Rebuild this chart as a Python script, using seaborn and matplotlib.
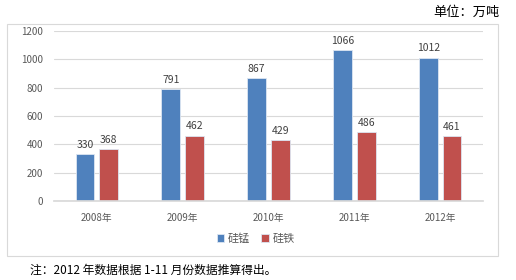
import matplotlib
matplotlib.use("Agg")
import matplotlib.pyplot as plt
import seaborn as sns
import pandas as pd
from matplotlib.patches import Rectangle

years = ["2008年", "2009年", "2010年", "2011年", "2012年"]
simn = [330, 791, 867, 1066, 1012]
sife = [368, 462, 429, 486, 461]
series = ["硅锰", "硅铁"]
yticks = [0, 200, 400, 600, 800, 1000, 1200]

sns.set_theme(style="white")
plt.rcParams['font.family'] = ['Noto Sans CJK SC', 'DejaVu Sans']

df = pd.DataFrame({
    "year": years * 2,
    "value": simn + sife,
    "series": [series[0]] * len(years) + [series[1]] * len(years),
})

fig = plt.figure(figsize=(5.16, 2.80), dpi=100)
ax = fig.add_axes([54/516, 1 - 201/280, (483-54)/516, (201-31)/280])

sns.barplot(data=df, x="year", y="value", hue="series",
            palette=["#4F81BD", "#C0504D"], width=0.556, gap=0.21,
            saturation=1, ax=ax, legend=True, edgecolor="#dce6f2", linewidth=0.6)

for cont in ax.containers:
    ax.bar_label(cont, padding=3, fontsize=7.5, color="#404040")

ax.set_ylim(0, 1200)
ax.set_yticks(yticks)
ax.set_xlim(-0.5, 4.5)
ax.yaxis.grid(True, color="#d9d9d9", linewidth=0.8)
ax.set_axisbelow(True)
for s in ["top", "right", "left"]:
    ax.spines[s].set_visible(False)
ax.spines["bottom"].set_color("#d9d9d9")
ax.tick_params(axis="both", length=0, labelsize=7, colors="#595959", pad=8)
ax.tick_params(axis="x", pad=9)
ax.set_xlabel("")
ax.set_ylabel("")

leg = ax.legend(loc="upper center", bbox_to_anchor=(0.47, -0.155), ncol=2,
                frameon=False, fontsize=8, handlelength=0.7, handleheight=0.7,
                handletextpad=0.3, columnspacing=1.0, borderpad=0)
for t in leg.get_texts():
    t.set_color("#595959")

fig.patches.append(Rectangle((7/516, 1 - 256/280), (498-7)/516, (256-24)/280,
                             transform=fig.transFigure, fill=False,
                             edgecolor="#d9d9d9", linewidth=0.8))

fig.text(500/516, 1 - 12/280, "单位：万吨", ha="right", va="center", fontsize=9.5, color="black")
fig.text(30/516, 1 - 270/280, "注：2012 年数据根据 1-11 月份数据推算得出。", ha="left", va="center",
         fontsize=8.5, color="black")

fig.savefig("out.png", dpi=100)
